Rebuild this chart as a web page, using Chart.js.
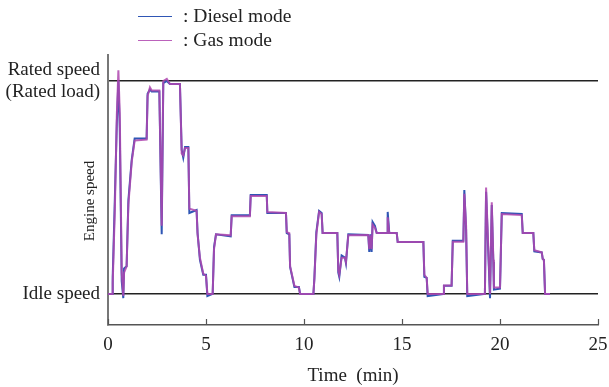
<!DOCTYPE html>
<html>
<head>
<meta charset="utf-8">
<script src="https://cdn.jsdelivr.net/npm/chart.js@4.4.0/dist/chart.umd.min.js"></script>
<style>
  html, body { margin: 0; padding: 0; background: #fff; }
  #wrap { position: relative; width: 609px; height: 387px; }
  #legend { position: absolute; left: 138px; top: 4px; font: 19.5px "Liberation Serif", serif; color: #222; }
  .item { display: flex; align-items: center; height: 24px; }
  .swatch { width: 34px; height: 0; border-top: 1.5px solid; margin-right: 11px; }
</style>
</head>
<body>
<div id="wrap">
  <canvas id="myChart" width="609" height="387"></canvas>
  <div id="legend"></div>
</div>
<script>
// time (min)
const timeMin = [0, 0.22, 0.24, 0.35, 0.45, 0.53, 0.6, 0.7, 0.78, 0.82, 0.95, 1.04, 1.21, 1.36, 1.97, 2.02, 2.14, 2.23, 2.62, 2.74, 2.82, 3.0, 3.16, 3.67, 3.76, 3.84, 3.93, 4.1, 4.15, 4.52, 4.57, 4.69, 4.86, 5.0, 5.07, 5.34, 5.41, 5.51, 6.26, 6.31, 7.24, 7.28, 8.1, 8.13, 9.08, 9.12, 9.25, 9.29, 9.51, 9.74, 9.8, 10.48, 10.53, 10.63, 10.77, 10.9, 10.95, 11.7, 11.75, 11.8, 11.92, 12.09, 12.14, 12.26, 13.28, 13.33, 13.4, 13.45, 13.5, 13.62, 13.71, 14.25, 14.27, 14.35, 14.73, 14.78, 16.09, 16.14, 16.26, 16.31, 17.11, 17.14, 17.53, 17.59, 18.13, 18.18, 18.27, 18.33, 19.23, 19.29, 19.4, 19.49, 19.58, 19.66, 19.69, 20.0, 20.09, 21.11, 21.16, 21.7, 21.75, 22.13, 22.18, 22.24, 22.3, 22.55];

// engine speed, 0 = idle, 100 = rated
const dieselSpeed = [0, 0, 8, 45, 80, 100, 78, 6, -2, 12, 13, 44, 63, 73, 73, 94, 96, 95, 95, 28, 99, 100, 98.6, 98.6, 67.6, 64, 69, 69, 38, 39.4, 28.6, 16, 9, 9, -1, 0, 22, 28, 27, 37, 37, 46.5, 46.5, 38, 38, 28.6, 28, 12.7, 3.3, 3.3, 0, 0, 7.5, 29, 39, 38, 28.6, 28.6, 10, 8, 18, 17, 14.5, 28, 27.7, 19.7, 28, 19.7, 33.8, 32, 28.6, 28.6, 38.5, 28.6, 28.6, 24.4, 24.4, 8, 7.5, -1, 0, 3.8, 3.8, 25, 25, 48.8, 30, -1, 0, 48, 20, -2, 41.8, 15, 2, 2.5, 38, 37.5, 28.6, 28.6, 20, 19.5, 16.4, 16, 0, 0];

const gasSpeed = [0, 0, 5, 40, 84, 105, 85, 10, -1, 10, 13, 42, 62, 72, 72.5, 93, 97, 95.5, 95.5, 32, 100, 101, 98.6, 98.6, 66, 65, 68.5, 68.5, 40, 39, 28, 17, 9.5, 8.5, 0, 0, 21, 28, 27.5, 36.5, 36.5, 46, 46, 38.5, 38, 29, 28.5, 13, 3.8, 3, 0, 0, 7, 28, 38.5, 37.5, 28.6, 28.6, 11, 9, 17, 17, 15, 27.5, 27.7, 21, 27.5, 21, 32.5, 31, 28.6, 28.6, 36, 28.6, 28.6, 24.4, 24.4, 9, 7.5, 0, 0, 4, 4, 24.5, 24.5, 47, 32, 0, 0, 50, 22, 0, 43, 16, 3, 3, 37.5, 37, 28.6, 28.6, 20.5, 19.5, 16.4, 16, 0, 0];

const xTicks = [0, 5, 10, 15, 20, 25];
const yTickLabels = { 0: 'Idle speed', 100: ['Rated speed', '(Rated load)'] };

const serif = '"Liberation Serif", "Times New Roman", serif';
const pts = (arr) => timeMin.map((t, i) => ({ x: t, y: arr[i] }));

// small inward tick marks on the x axis + rotated y title
const extras = {
  id: 'extras',
  afterDraw(chart) {
    const c = chart.ctx, xs = chart.scales.x, area = chart.chartArea;
    c.save();
    c.strokeStyle = '#555';
    c.lineWidth = 1.2;
    xTicks.forEach(v => {
      const px = Math.round(xs.getPixelForValue(v)) + 0.5;
      c.beginPath();
      c.moveTo(px, area.bottom);
      c.lineTo(px, area.bottom - 6);
      c.stroke();
    });
    c.translate(90, 201);
    c.rotate(-Math.PI / 2);
    c.font = '15px ' + serif;
    c.fillStyle = '#222';
    c.textAlign = 'center';
    c.textBaseline = 'middle';
    c.fillText('Engine speed', 0, 0);
    c.restore();
  }
};

const ctx = document.getElementById('myChart');
const chart = new Chart(ctx, {
  type: 'line',
  data: {
    datasets: [{
      label: ': Gas mode',
      data: pts(gasSpeed),
      borderColor: 'rgba(175, 70, 175, 0.85)',
      borderWidth: 2,
      pointRadius: 0,
      order: 0
    }, {
      label: ': Diesel mode',
      data: pts(dieselSpeed),
      borderColor: '#2f56b5',
      borderWidth: 2,
      pointRadius: 0,
      order: 1
    }]
  },
  options: {
    responsive: false,
    animation: false,
    layout: { padding: { left: 0, right: 11, top: 55, bottom: 0 } },
    plugins: { legend: { display: false }, tooltip: { enabled: false } },
    scales: {
      x: {
        type: 'linear',
        min: 0, max: 25,
        afterBuildTicks: (s) => { s.ticks = xTicks.map(v => ({ value: v })); },
        afterFit: (s) => { s.height = 62; s.paddingLeft = 0; s.paddingRight = 0; },
        border: { color: '#555', width: 1.5 },
        grid: { display: true, drawOnChartArea: false, drawTicks: false },
        ticks: { color: '#222', font: { family: serif, size: 19 }, padding: 9, maxRotation: 0 },
        title: { display: true, text: 'Time  (min)', color: '#222', font: { family: serif, size: 19 }, padding: { top: 7, bottom: 0 } }
      },
      y: {
        min: -14.6, max: 112.2,
        afterBuildTicks: (s) => { s.ticks = [{ value: 0 }, { value: 100 }]; },
        afterFit: (s) => { s.width = 108; },
        border: { color: '#777', width: 2 },
        grid: { color: '#222', lineWidth: 1.5, drawTicks: false },
        ticks: {
          color: '#222',
          font: { family: serif, size: 19, lineHeight: 1.2 },
          padding: 8,
          callback: (v) => yTickLabels[v]
        }
      }
    }
  },
  plugins: [extras]
});

// legend, diesel first as in the figure
const legend = document.getElementById('legend');
[1, 0].forEach(i => {
  const ds = chart.data.datasets[i];
  const row = document.createElement('div');
  row.className = 'item';
  const sw = document.createElement('span');
  sw.className = 'swatch';
  sw.style.borderColor = ds.borderColor;
  const tx = document.createElement('span');
  tx.textContent = ds.label;
  row.appendChild(sw);
  row.appendChild(tx);
  legend.appendChild(row);
});
</script>
</body>
</html>
